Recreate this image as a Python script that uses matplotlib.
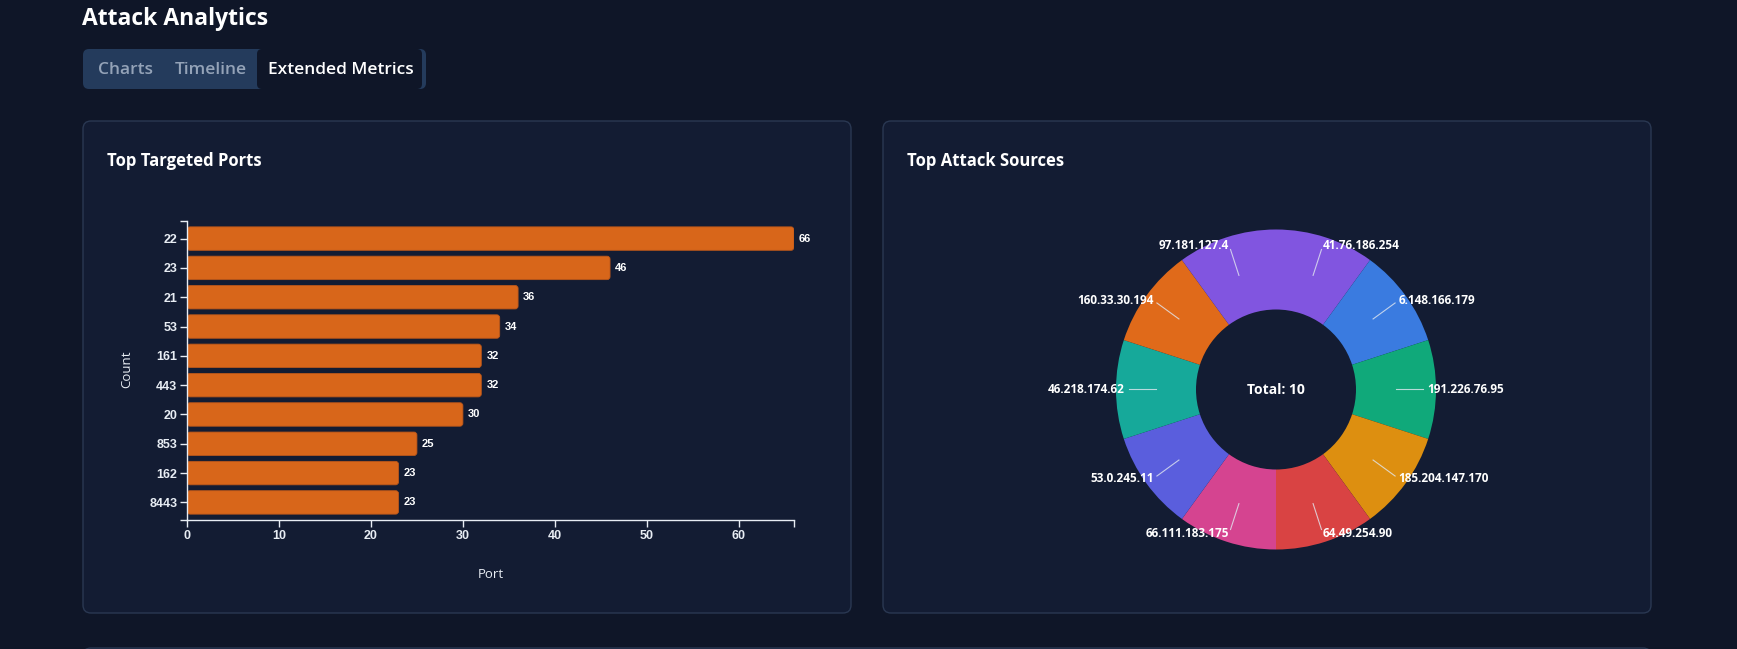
import matplotlib
matplotlib.use("Agg")
import numpy as np
import matplotlib.pyplot as plt
from matplotlib.patches import FancyBboxPatch

W, H = 1737, 649

# ── Data ─────────────────────────────────────────────────────────────────────
ports = ["22", "23", "21", "53", "161", "443", "20", "853", "162", "8443"]
port_counts = [66, 46, 36, 34, 32, 32, 30, 25, 23, 23]
x_ticks = [0, 10, 20, 30, 40, 50, 60]

sources = ["41.76.186.254", "6.148.166.179", "191.226.76.95", "185.204.147.170",
           "64.49.254.90", "66.111.183.175", "53.0.245.11", "46.218.174.62",
           "160.33.30.194", "97.181.127.4"]
source_counts = [1, 1, 1, 1, 1, 1, 1, 1, 1, 1]
source_colors = ["#8155E0", "#3A7BE0", "#10A97A", "#DD8F10", "#D94343",
                 "#D54490", "#5A5EDD", "#16A99A", "#E06A1A", "#8155E0"]
total_sources = 10

# ── Colours ──────────────────────────────────────────────────────────────────
PAGE = "#0F1628"
CARD = "#131C33"
EDGE = "#2A3852"
TAB = "#243B5C"
TXT = "#E8EDF4"
MUTED = "#94A3B8"
BAR = "#D8661A"

plt.rcParams["font.family"] = ["Open Sans", "DejaVu Sans"]

fig = plt.figure(figsize=(W / 100, H / 100), dpi=100, facecolor=PAGE)


def px_axes(x0, y0, x1, y1, **kw):
    return fig.add_axes([x0 / W, 1 - y1 / H, (x1 - x0) / W, (y1 - y0) / H], **kw)


# background layer in pixel coordinates
bg = px_axes(0, 0, W, H)
bg.set_xlim(0, W)
bg.set_ylim(H, 0)
bg.axis("off")
bg.set_zorder(-10)


def rbox(x0, y0, x1, y1, fc, ec="none", r=6, lw=1.0):
    bg.add_patch(FancyBboxPatch((x0, y0), x1 - x0, y1 - y0,
                                boxstyle=f"round,pad=0,rounding_size={r}",
                                fc=fc, ec=ec, lw=lw))


bg.text(82, 19, "Attack Analytics", fontsize=16.5, fontweight="bold", color="white",
        va="center", ha="left")

# tabs
rbox(83, 49, 426, 89, TAB, r=6)
rbox(257, 49, 422, 89, PAGE, r=5)
bg.text(98, 70, "Charts", fontsize=12.5, fontweight=600, color=MUTED, va="center", ha="left")
bg.text(175, 70, "Timeline", fontsize=12.5, fontweight=600, color=MUTED, va="center", ha="left")
bg.text(268, 70, "Extended Metrics", fontsize=12.5, fontweight=600, color="white",
        va="center", ha="left")

# cards
rbox(83, 121, 851, 613, CARD, EDGE, r=8)
rbox(883, 121, 1651, 613, CARD, EDGE, r=8)
rbox(83, 648, 1651, 720, CARD, EDGE, r=8)
bg.text(107, 161, "Top Targeted Ports", fontsize=12, fontweight="bold", color="white",
        va="center", ha="left")
bg.text(907, 161, "Top Attack Sources", fontsize=12, fontweight="bold", color="white",
        va="center", ha="left")
bg.text(491, 575, "Port", fontsize=9.5, color=TXT, va="center", ha="center")
bg.text(127, 369, "Count", fontsize=9.5, color=TXT, va="center", ha="center", rotation=90)

# ── Bar chart ────────────────────────────────────────────────────────────────
ax = px_axes(187, 221, 794, 520)
ax.set_facecolor("none")
n = len(ports)
ax.set_xlim(0, max(port_counts))
ax.set_ylim(n - 1 + 0.6, -0.6)
pos = list(range(n))
bars = ax.barh(pos, port_counts, height=0.8, color=BAR)

# rounded bar ends
x_px = (794 - 187) / max(port_counts)
y_px = (520 - 221) / (n + 0.2)
for b in bars:
    b.set_visible(False)
    ax.add_patch(FancyBboxPatch((b.get_x(), b.get_y()), b.get_width(), b.get_height(),
                                boxstyle=f"round,pad=0,rounding_size={3 / x_px}",
                                mutation_aspect=x_px / y_px,
                                fc=BAR, ec="#B9561A", lw=0.6))
for p, v in zip(pos, port_counts):
    ax.text(v + 0.55, p, str(v), fontsize=8, fontweight="bold", color="white",
            va="center", ha="left", family=["Liberation Sans"])

ax.set_yticks(pos)
ax.set_yticklabels(ports)
ax.set_xticks(x_ticks)
ax.set_xticklabels([str(t) for t in x_ticks])
ax.set_xticks([max(port_counts)], minor=True)
ax.set_yticks([n - 1 + 0.6, -0.6], minor=True)
for s in ["top", "right"]:
    ax.spines[s].set_visible(False)
for s in ["left", "bottom"]:
    ax.spines[s].set_color(TXT)
    ax.spines[s].set_linewidth(1.0)
ax.tick_params(which="both", colors=TXT, length=5, width=1.0)
ax.tick_params(axis="both", which="major", labelsize=9, labelcolor=TXT, pad=2)
for lab in ax.get_xticklabels() + ax.get_yticklabels():
    lab.set_family(["Liberation Sans"])
    lab.set_fontweight("bold")

# ── Donut ────────────────────────────────────────────────────────────────────
cx, cy, R = 1276, 389.5, 160
ax2 = px_axes(cx - 200, cy - 200, cx + 200, cy + 200)
ax2.set_facecolor("none")
wedges, _ = ax2.pie(source_counts, colors=source_colors, startangle=90,
                    counterclock=False, radius=1.0,
                    wedgeprops=dict(width=0.5, linewidth=0))
ax2.set_xlim(-1.25, 1.25)
ax2.set_ylim(-1.25, 1.25)
ax2.set_aspect("equal")
ax2.axis("off")

for w, lab in zip(wedges, sources):
    mid = np.deg2rad((w.theta1 + w.theta2) / 2)
    c, s = np.cos(mid), np.sin(mid)
    ax2.plot([0.75 * c, 0.92 * c], [0.75 * s, 0.92 * s], color="#E2E8F0", lw=0.8, alpha=0.8)
    ax2.text(0.945 * c, 0.945 * s, lab, fontsize=8.5, fontweight="bold", color="white",
             ha="left" if c > 0.01 else "right", va="center")
ax2.text(0, 0, f"Total: {total_sources}", fontsize=10, fontweight="bold", color="white",
         ha="center", va="center")

fig.savefig("out.png", dpi=100, facecolor=PAGE)
